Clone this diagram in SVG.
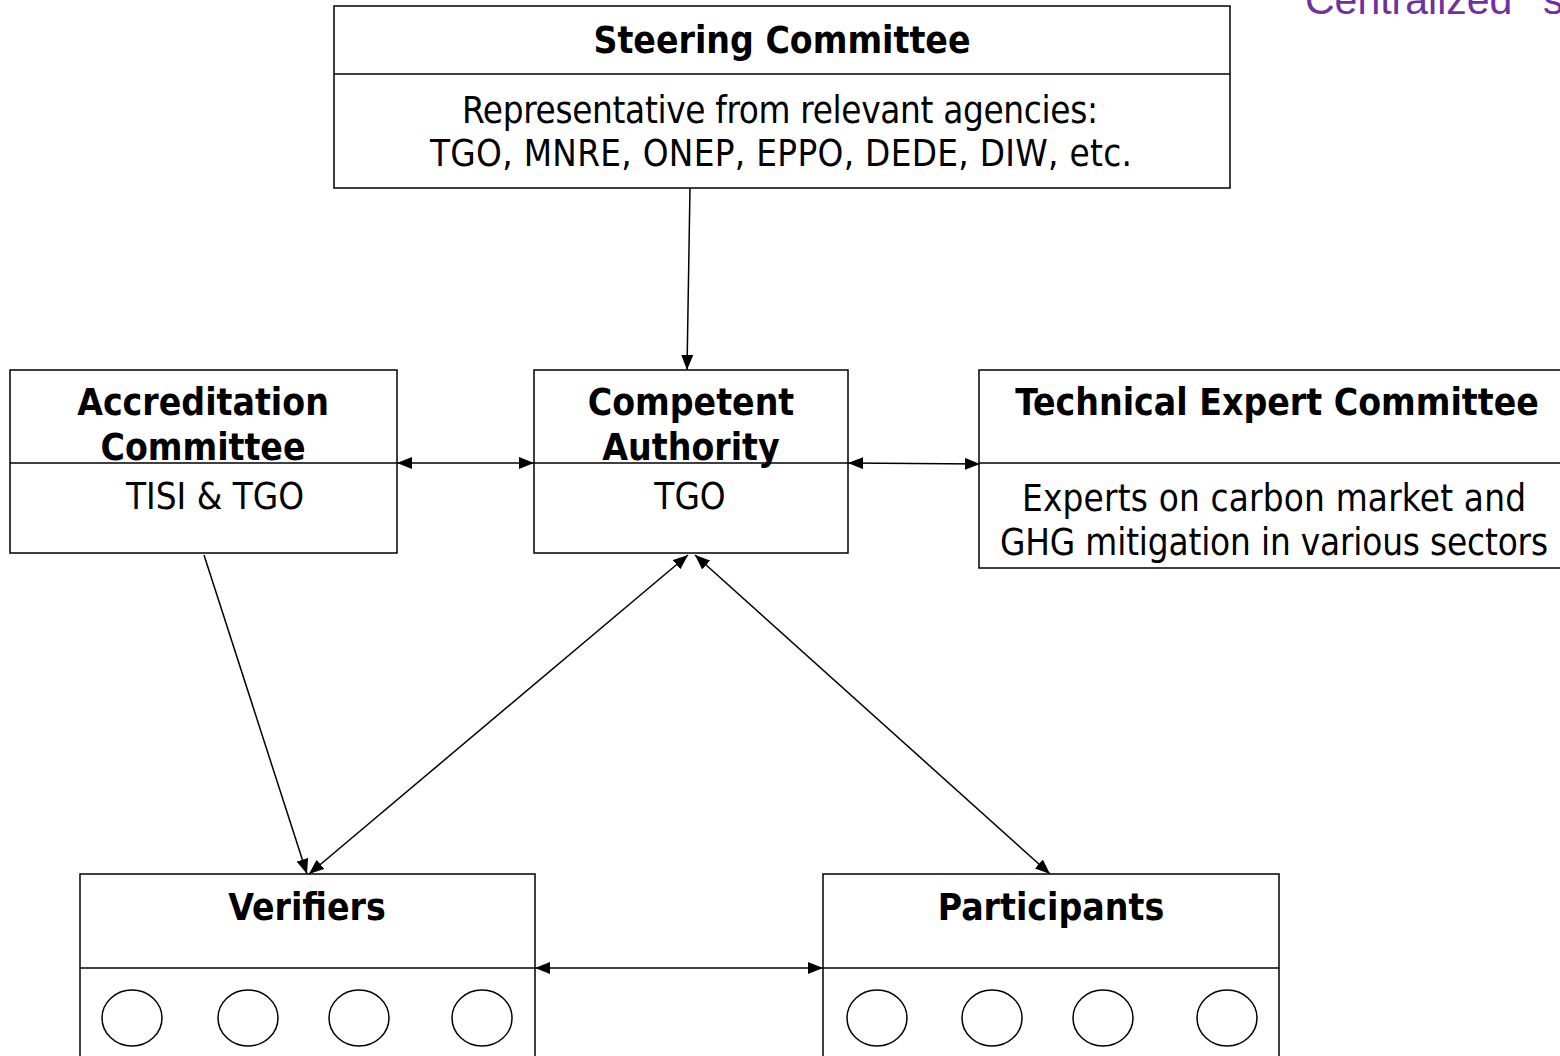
<svg xmlns="http://www.w3.org/2000/svg" width="1560" height="1056" viewBox="0 0 1560 1056">
<style>
.box{fill:#fff;stroke:#000;stroke-width:1.5}
.div{stroke:#000;stroke-width:1.5}
.t{font-family:"DejaVu Sans Condensed","DejaVu Sans",sans-serif;font-stretch:condensed;font-size:36.5px;fill:#000;text-anchor:middle}
.b{font-weight:bold;font-size:37px}
.c{fill:none;stroke:#000;stroke-width:1.5}
.con{stroke:#000;stroke-width:1.5;fill:none}
.purple{font-family:"Liberation Sans",Arial,sans-serif;font-size:41px;fill:#7030A0}
</style>
<defs>
<marker id="ah" viewBox="0 0 15 12" refX="15" refY="6" markerWidth="15" markerHeight="12" markerUnits="userSpaceOnUse" orient="auto-start-reverse">
<path d="M0,0 L15,6 L0,12 Z" fill="#000"/>
</marker>
</defs>
<text class="purple" x="1305" y="14">Centralized <tspan x="1543">s</tspan></text>
<g id="steering">
<rect class="box" x="334" y="6" width="896" height="182"/>
<line class="div" x1="334" y1="74" x2="1230" y2="74"/>
<text class="t b" x="782" y="53">Steering Committee</text>
<text class="t" x="780" y="123" textLength="636" lengthAdjust="spacing">Representative from relevant agencies:</text>
<text class="t" x="781" y="166" textLength="702" lengthAdjust="spacing">TGO, MNRE, ONEP, EPPO, DEDE, DIW, etc.</text>
</g>
<g id="accreditation">
<rect class="box" x="10" y="370" width="387" height="183"/>
<line class="div" x1="10" y1="463" x2="397" y2="463"/>
<text class="t b" x="203" y="415">Accreditation</text>
<text class="t b" x="203" y="460">Committee</text>
<text class="t" x="215" y="509">TISI &amp; TGO</text>
</g>
<g id="competent">
<rect class="box" x="534" y="370" width="314" height="183"/>
<line class="div" x1="534" y1="463" x2="848" y2="463"/>
<text class="t b" x="691" y="415">Competent</text>
<text class="t b" x="691" y="460">Authority</text>
<text class="t" x="690" y="509">TGO</text>
</g>
<g id="technical">
<rect class="box" x="979" y="370" width="600" height="198"/>
<line class="div" x1="979" y1="463" x2="1579" y2="463"/>
<text class="t b" x="1277" y="415">Technical Expert Committee</text>
<text class="t" x="1274" y="511" textLength="504" lengthAdjust="spacing">Experts on carbon market and</text>
<text class="t" x="1274" y="555" textLength="548" lengthAdjust="spacing">GHG mitigation in various sectors</text>
</g>
<g id="verifiers">
<rect class="box" x="80" y="874" width="455" height="200"/>
<line class="div" x1="80" y1="968" x2="535" y2="968"/>
<text class="t b" x="307" y="920">Verifiers</text>
<ellipse class="c" cx="132" cy="1018" rx="30" ry="28"/>
<ellipse class="c" cx="248" cy="1018" rx="30" ry="28"/>
<ellipse class="c" cx="359" cy="1018" rx="30" ry="28"/>
<ellipse class="c" cx="482" cy="1018" rx="30" ry="28"/>
</g>
<g id="participants">
<rect class="box" x="823" y="874" width="456" height="200"/>
<line class="div" x1="823" y1="968" x2="1279" y2="968"/>
<text class="t b" x="1051" y="920">Participants</text>
<ellipse class="c" cx="877" cy="1018" rx="30" ry="28"/>
<ellipse class="c" cx="992" cy="1018" rx="30" ry="28"/>
<ellipse class="c" cx="1103" cy="1018" rx="30" ry="28"/>
<ellipse class="c" cx="1227" cy="1018" rx="30" ry="28"/>
</g>
<g id="connectors">
<line class="con" x1="690" y1="188" x2="687" y2="370" marker-end="url(#ah)"/>
<line class="con" x1="397" y1="463" x2="534" y2="463" marker-start="url(#ah)" marker-end="url(#ah)"/>
<line class="con" x1="848" y1="463" x2="980" y2="464" marker-start="url(#ah)" marker-end="url(#ah)"/>
<line class="con" x1="204" y1="555" x2="307" y2="874" marker-end="url(#ah)"/>
<line class="con" x1="688" y1="555" x2="309" y2="874" marker-start="url(#ah)" marker-end="url(#ah)"/>
<line class="con" x1="695" y1="555" x2="1050" y2="874" marker-start="url(#ah)" marker-end="url(#ah)"/>
<line class="con" x1="535" y1="968" x2="823" y2="968" marker-start="url(#ah)" marker-end="url(#ah)"/>
</g>
</svg>
